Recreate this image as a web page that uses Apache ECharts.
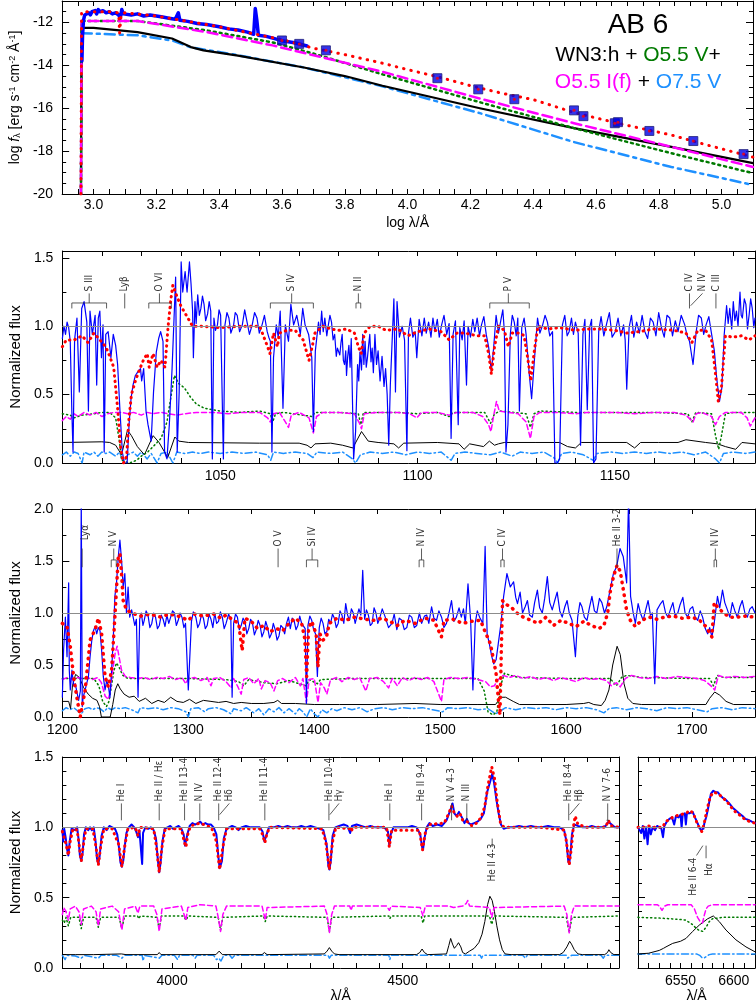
<!DOCTYPE html>
<html>
<head>
<meta charset="utf-8">
<script src="https://cdn.jsdelivr.net/npm/echarts@6.0.0/dist/echarts.min.js"></script>
<style>
  html, body { margin: 0; padding: 0; background: #fff; }
  #chart { width: 756px; height: 1008px; }
</style>
</head>
<body>
<div id="chart"></div>
<script>
// ---------- SED panel (log lambda, log f) ----------
const sedObs = [[2.963,-13.8],[2.965,-12.6],[2.968,-11.9],[2.972,-11.65],[2.978,-11.7],[2.985,-11.55],[2.99,-11.65],[2.995,-11.5],[3.0,-11.55],[3.005,-11.45],[3.01,-11.6],[3.015,-11.4],[3.02,-11.5],[3.03,-11.45],[3.04,-11.55],[3.05,-11.5],[3.06,-11.6],[3.07,-11.55],[3.08,-11.65],[3.085,-11.8],[3.09,-11.4],[3.095,-11.6],[3.1,-11.55],[3.12,-11.65],[3.14,-11.6],[3.16,-11.7],[3.18,-11.65],[3.2,-11.7],[3.22,-11.75],[3.24,-11.8],[3.26,-11.85],[3.27,-11.55],[3.275,-11.9],[3.3,-11.95],[3.33,-12.05],[3.36,-12.1],[3.4,-12.2],[3.43,-12.3],[3.46,-12.35],[3.49,-12.45],[3.51,-12.55],[3.515,-11.35],[3.52,-11.9],[3.525,-12.6],[3.55,-12.65],[3.6,-12.85],[3.64,-12.95],[3.68,-13.1]];
const sedModel = [[2.96,-20],[2.962,-11.5],[3.0,-11.5],[3.05,-11.5],[3.08,-11.55],[3.083,-12.5],[3.088,-11.6],[3.1,-11.55],[3.2,-11.7],[3.3,-11.95],[3.4,-12.2],[3.5,-12.5],[3.6,-12.8],[3.7,-13.2],[3.8,-13.5],[3.92,-13.9],[4.0,-14.2],[4.1,-14.55],[4.2,-14.95],[4.3,-15.3],[4.4,-15.6],[4.53,-16.2],[4.6,-16.45],[4.7,-16.8],[4.84,-17.25],[4.95,-17.7],[5.1,-18.28]];
const sedWR = [[2.96,-20],[2.962,-12.25],[3.0,-12.25],[3.14,-12.45],[3.25,-12.75],[3.31,-13.15],[3.35,-13.3],[3.46,-13.55],[3.67,-14.1],[3.8,-14.5],[3.92,-14.95],[4.23,-16.0],[4.53,-16.93],[4.84,-17.8],[5.1,-18.56]];
const sedO75V = [[2.96,-20],[2.962,-12.5],[3.14,-12.6],[3.25,-12.84],[3.31,-13.16],[3.46,-13.53],[3.67,-14.1],[3.92,-14.98],[4.23,-16.23],[4.53,-17.58],[4.84,-18.74],[5.1,-19.58]];
const sedO55V = [[2.96,-20],[2.962,-11.93],[3.14,-11.93],[3.36,-12.37],[3.57,-12.93],[3.7,-13.45],[3.92,-14.42],[4.23,-15.72],[4.53,-16.93],[4.84,-18.1],[5.1,-19.03]];
const sedO55I = [[2.96,-20],[2.962,-11.93],[3.14,-11.93],[3.36,-12.45],[3.57,-13.07],[3.92,-14.3],[4.23,-15.55],[4.53,-16.7],[4.84,-17.8],[5.1,-18.74]];
const photLogLam = [3.60,3.655,3.74,4.095,4.225,4.34,4.53,4.56,4.66,4.67,4.77,4.91,5.07];
const photLogF = [-12.84,-13.0,-13.3,-14.6,-15.12,-15.58,-16.1,-16.37,-16.7,-16.65,-17.06,-17.53,-18.14];

// ---------- FUSE panel ----------
const fuseObs = [[1010,0.91],[1010.4,1.0],[1010.8,0.94],[1011.2,1.03],[1011.6,0.99],[1012,0.89],[1012.4,0.38],[1012.7,0.08],[1013.1,0.9],[1013.7,1.06],[1014.3,0.52],[1014.9,1.13],[1015.5,1.18],[1016.2,1.03],[1016.6,0.38],[1017,1.11],[1017.6,0.94],[1018.3,1.08],[1018.7,0.57],[1019.1,1.06],[1019.5,1.11],[1019.9,0.77],[1020.3,1.01],[1020.6,0.08],[1021,0.94],[1021.6,0.96],[1022.3,0.77],[1022.9,0.94],[1023.5,0.86],[1024,0.72],[1024.6,0.38],[1025.2,0.08],[1025.7,0],[1026.4,0],[1026.9,0.28],[1027.4,0.47],[1027.9,0.57],[1028.5,0.64],[1029.2,0.67],[1029.8,0.69],[1030.1,0.6],[1030.6,0.69],[1031.2,0.38],[1031.7,0.28],[1032.5,0.16],[1033.1,0.52],[1033.8,0.81],[1034.4,0.91],[1034.9,0.96],[1035.5,0.89],[1035.9,0.08],[1036.5,0.03],[1037.1,0.28],[1037.8,0.69],[1038.3,1.06],[1038.7,1.36],[1039.1,0.08],[1039.6,0.52],[1040.1,1.47],[1040.5,1.25],[1041.1,1.4],[1041.6,1.25],[1042.2,1.47],[1042.6,1.31],[1043,1.11],[1043.2,0.77],[1043.6,1.18],[1043.9,1.02],[1044.3,1.23],[1044.7,1.08],[1045.1,1.13],[1045.5,1.22],[1045.9,1.16],[1046.3,1.04],[1046.8,1.09],[1047.2,1.18],[1047.6,1.11],[1048,0.03],[1048.4,1.06],[1048.8,0.97],[1049.3,1.01],[1049.7,1.12],[1050.1,1.08],[1050.8,0.03],[1051.2,1.01],[1051.7,1.1],[1052.2,1.06],[1052.7,0.95],[1053.4,1.01],[1053.8,1.1],[1054.3,1.08],[1054.9,0.96],[1055.6,1.01],[1056.2,1.12],[1056.8,1.03],[1057.4,0.94],[1058.1,1.01],[1058.7,1.1],[1059.3,1.06],[1059.9,0.95],[1060.6,1.01],[1061.2,1.08],[1061.9,0.96],[1062.3,0.92],[1062.7,0.89],[1063.1,0.08],[1063.5,0.77],[1064.2,1.01],[1064.7,0.92],[1065.2,1.11],[1065.9,0.4],[1066.5,1.01],[1067.3,0.89],[1067.9,1.16],[1068.6,1.01],[1069.4,1.08],[1070.3,0.94],[1070.9,1.13],[1071.5,1.01],[1072.4,0.94],[1073.2,0.77],[1073.6,0.23],[1074.1,0.82],[1074.9,1.03],[1075.3,0.94],[1075.7,1.11],[1076.1,0.96],[1076.5,1.06],[1077,0.93],[1077.4,1.01],[1077.8,1.08],[1078.2,1.03],[1078.6,0.9],[1079,0.94],[1079.4,0.78],[1079.7,0.84],[1080.3,0.79],[1080.6,0.88],[1080.9,0.94],[1081.2,0.75],[1081.5,0.72],[1081.8,0.82],[1082,0.64],[1082.3,0.78],[1082.6,0.86],[1082.9,0.7],[1083.2,0.91],[1083.8,0.03],[1084.3,0.23],[1084.8,0.72],[1085.1,0.6],[1085.4,0.81],[1085.8,0.68],[1086.1,0.94],[1086.4,0.72],[1086.7,0.89],[1087,0.7],[1087.3,0.77],[1087.6,0.86],[1087.9,0.94],[1088.2,0.74],[1088.5,0.84],[1088.8,0.66],[1089.2,0.94],[1089.6,0.72],[1090,0.82],[1090.5,0.6],[1091,0.78],[1091.5,0.56],[1091.9,0.69],[1092.3,0.5],[1092.7,0.13],[1093.1,0.57],[1094,1.2],[1094.4,0.52],[1094.8,1.18],[1095.4,0.92],[1096.1,1.0],[1096.7,0.9],[1097.3,0.09],[1097.7,0.95],[1098.2,1.06],[1098.8,0.92],[1099.4,0.96],[1099.8,0.77],[1100.4,1.05],[1101.1,0.93],[1101.7,1.06],[1102.2,0.95],[1102.8,1.03],[1103.4,0.92],[1103.9,1.06],[1104.4,0.96],[1105,1.05],[1105.5,0.92],[1106.1,1.01],[1106.7,1.08],[1107.4,0.94],[1108,1.02],[1108.5,0.18],[1109,0.94],[1109.6,1.04],[1110.3,0.28],[1110.7,0.99],[1111.3,0.9],[1111.8,1.04],[1112.4,0.57],[1112.8,1.0],[1113.4,0.92],[1114,1.05],[1114.5,0.96],[1115.1,1.06],[1115.7,0.93],[1116.2,1.01],[1116.8,1.07],[1117.4,0.94],[1118,0.85],[1118.7,0.67],[1119.3,0.85],[1119.9,1.08],[1120.5,0.95],[1121.2,1.06],[1121.6,1.12],[1122,0.96],[1122.4,0.08],[1122.9,0.28],[1123.5,0.94],[1124,1.08],[1124.5,1.03],[1125,0.93],[1125.4,1.06],[1125.8,0.38],[1126.4,0.99],[1127,1.06],[1127.5,0.94],[1128.3,0.65],[1128.9,0.47],[1129.6,0.75],[1130.4,1.06],[1131,0.95],[1131.7,1.01],[1132.3,1.08],[1132.9,1.03],[1133.5,0.93],[1134.2,0.96],[1134.8,0],[1135.4,0],[1136,0.03],[1136.7,1.01],[1137.3,1.08],[1137.9,0.93],[1138.4,0.96],[1139,1.06],[1139.5,0.94],[1140,1.03],[1140.7,0.95],[1141.3,0.13],[1141.9,0.94],[1142.4,1.05],[1143,0.39],[1143.6,0.99],[1144.1,1.05],[1144.6,0],[1145.2,0.03],[1145.9,0.96],[1146.5,1.07],[1147.2,0.93],[1148,1.03],[1148.6,1.1],[1149.3,0.92],[1150.1,0.96],[1150.8,1.06],[1151.5,0.93],[1152.2,1.01],[1152.6,0.9],[1153,0.54],[1153.6,0.99],[1154.2,1.08],[1154.8,0.92],[1155.5,1.03],[1156.2,0.95],[1156.9,1.08],[1157.6,0.96],[1158.3,0.91],[1159,1.06],[1159.7,1.03],[1160.4,0.93],[1161.1,1.1],[1161.8,0.99],[1162.5,0.92],[1163.2,1.08],[1163.9,1.06],[1164.6,0.93],[1165.3,1.04],[1166,0.96],[1166.8,1.08],[1167.7,1.01],[1168.3,0.93],[1168.9,0.89],[1169.8,0.72],[1170.6,0.96],[1171.2,1.08],[1171.9,1.06],[1172.5,0.94],[1173.1,1.01],[1173.8,1.07],[1174.4,0.96],[1175.2,0.82],[1175.8,0.62],[1176.5,0.45],[1177.1,0.55],[1177.7,0.94],[1178.3,1.15],[1178.7,1.02],[1179.1,1.13],[1179.6,0.98],[1180,1.18],[1180.4,1.04],[1180.8,1.11],[1181.2,1.0],[1181.7,1.25],[1182,1.08],[1182.3,1.06],[1182.8,1.2],[1183.2,1.16],[1183.6,0.98],[1184,1.08],[1184.4,1.2],[1184.8,1.13],[1185.2,0.99],[1185.5,1.06]];
const fuseModel = [[1010,0.85],[1011,0.9],[1013,0.9],[1015,0.93],[1016.5,0.88],[1018,0.95],[1019.5,0.9],[1021,0.85],[1022,0.78],[1023,0.7],[1024,0.4],[1024.8,0.1],[1025.5,0],[1026.3,0.05],[1026.8,0.3],[1027.5,0.5],[1028.5,0.6],[1029.5,0.68],[1030.5,0.75],[1031.5,0.8],[1032,0.7],[1033,0.8],[1034,0.7],[1035,0.75],[1036,0.7],[1036.8,1.0],[1037.5,1.2],[1038,1.3],[1039,1.22],[1040,1.15],[1041,1.1],[1042,1.05],[1043,1.0],[1045,1.0],[1050,0.99],[1055,1.0],[1060,1.0],[1062,0.85],[1062.6,0.8],[1063.5,0.95],[1064.5,0.85],[1065,0.95],[1067,0.97],[1069,0.97],[1071,0.9],[1072.5,0.75],[1073.3,0.85],[1074,0.95],[1076,1.0],[1078,0.98],[1080,0.97],[1082,0.98],[1084,0.95],[1085,0.85],[1085.7,0.8],[1086.5,0.95],[1088,1.0],[1090,1.0],[1092,0.97],[1095,0.98],[1097.5,0.93],[1100,0.96],[1103,0.98],[1106,0.96],[1108,0.9],[1110,0.95],[1112,0.95],[1115,0.93],[1117,0.93],[1118,0.8],[1118.7,0.65],[1119.5,0.85],[1120.5,1.0],[1122,0.97],[1123,0.85],[1124,0.95],[1126,0.95],[1127,0.93],[1128,0.75],[1128.7,0.6],[1129.5,0.8],[1130.5,1.0],[1133,0.98],[1136,0.99],[1140,0.97],[1143,0.98],[1146,0.98],[1150,0.97],[1153,0.95],[1156,0.96],[1160,0.98],[1165,0.97],[1168,0.95],[1169.5,0.88],[1171,0.97],[1173,0.97],[1174.5,0.9],[1175.5,0.65],[1176.2,0.45],[1177,0.55],[1178,0.93],[1180,0.92],[1182,0.93],[1184,0.9],[1185.5,0.93]];
const fuseWR = [[1010,0.15],[1020,0.155],[1022,0.15],[1023.5,0.13],[1025,0.06],[1026.5,0.24],[1027.5,0.2],[1029,0.12],[1030.8,0.06],[1033,0.2],[1034.5,0.15],[1036.7,0.04],[1038.5,0.19],[1039.5,0.16],[1042,0.15],[1060,0.145],[1070,0.145],[1072,0.13],[1073,0.11],[1074,0.14],[1078,0.145],[1081,0.13],[1083.6,0.11],[1085.8,0.23],[1087.5,0.16],[1090,0.15],[1094,0.14],[1095.2,0.11],[1096.5,0.145],[1105,0.15],[1110.5,0.14],[1111.8,0.1],[1113.2,0.14],[1116.7,0.12],[1118.2,0.16],[1119.5,0.13],[1120.5,0.14],[1122,0.15],[1130,0.15],[1136,0.15],[1138,0.12],[1140,0.11],[1141.5,0.15],[1148,0.15],[1153,0.15],[1155,0.11],[1156.5,0.15],[1161,0.15],[1166,0.15],[1168,0.17],[1173,0.15],[1176,0.14],[1178,0.12],[1180.6,0.1],[1182.2,0.15],[1185.5,0.14]];
const fuseO55V = [[1010,0.36],[1012,0.35],[1013,0.33],[1015,0.35],[1018,0.36],[1020,0.37],[1022,0.37],[1023.5,0.33],[1024.5,0.15],[1025,0.02],[1027,0],[1028.8,0.02],[1030,0.05],[1031.6,0.08],[1033,0.12],[1035,0.18],[1036.5,0.3],[1037.6,0.5],[1038.4,0.64],[1039.5,0.58],[1040.9,0.55],[1042.5,0.48],[1044,0.43],[1046,0.4],[1050,0.38],[1055,0.37],[1060,0.38],[1062.7,0.36],[1063.3,0.3],[1064,0.36],[1066,0.37],[1073.3,0.34],[1074,0.37],[1080,0.37],[1085,0.36],[1085.6,0.28],[1086.3,0.37],[1095,0.37],[1100,0.36],[1105,0.37],[1108,0.34],[1109,0.37],[1117,0.37],[1118.5,0.29],[1119.5,0.36],[1121,0.38],[1127.5,0.36],[1128.6,0.26],[1129.5,0.36],[1131,0.38],[1140,0.37],[1150,0.37],[1160,0.37],[1168.5,0.36],[1169.5,0.3],[1170.5,0.37],[1174.5,0.36],[1175.5,0.2],[1176.3,0.1],[1177,0.2],[1178,0.36],[1180,0.37],[1185.5,0.37]];
const fuseO55I = [[1010,0.31],[1011,0.34],[1012,0.32],[1013,0.36],[1014,0.34],[1015.5,0.37],[1017,0.35],[1018.5,0.37],[1020,0.34],[1021.5,0.36],[1023,0.37],[1025,0.37],[1026.5,0.36],[1028,0.37],[1030,0.35],[1031.5,0.37],[1033,0.36],[1035,0.37],[1037,0.36],[1039,0.35],[1041,0.36],[1044,0.37],[1048,0.37],[1052,0.36],[1056,0.37],[1060,0.37],[1062,0.33],[1062.7,0.3],[1063.5,0.36],[1065,0.37],[1066.5,0.3],[1067.3,0.26],[1068,0.35],[1070,0.37],[1072.5,0.33],[1073.6,0.22],[1074.4,0.34],[1076,0.37],[1080,0.37],[1084,0.36],[1085.3,0.29],[1085.8,0.25],[1086.5,0.36],[1090,0.37],[1095,0.37],[1098,0.36],[1099.8,0.33],[1101,0.37],[1105,0.37],[1108,0.35],[1110,0.37],[1114,0.37],[1116.5,0.34],[1118,0.28],[1118.6,0.23],[1119.3,0.35],[1120,0.45],[1120.7,0.38],[1123,0.37],[1125.5,0.36],[1127.5,0.3],[1128.6,0.18],[1129.5,0.34],[1131,0.37],[1135,0.37],[1140,0.36],[1143,0.37],[1150,0.37],[1155,0.36],[1160,0.37],[1165,0.37],[1168,0.35],[1169.8,0.3],[1170.6,0.36],[1172,0.37],[1174.5,0.34],[1175.5,0.28],[1176.5,0.34],[1178,0.37],[1182,0.37],[1183.5,0.33],[1184.3,0.27],[1185.5,0.33]];
const fuseO75V = [[1010,0.06],[1011,0.08],[1012,0.05],[1013,0.08],[1014,0.07],[1015,0],[1015.5,0.08],[1017,0.06],[1018,0.08],[1019,0.05],[1020,0.08],[1021,0.07],[1022,0.08],[1023.5,0.05],[1024.5,0.08],[1025.5,0],[1026.5,0.06],[1028,0.08],[1029,0.05],[1030,0.08],[1031.5,0.03],[1032.5,0.07],[1034,0],[1035,0.07],[1036.5,0.08],[1038,0],[1039,0.08],[1041,0.07],[1043,0.08],[1045,0.07],[1047,0.08],[1050,0.07],[1053,0.08],[1056,0.07],[1059,0.08],[1062,0.06],[1062.8,0.02],[1063.5,0.08],[1066,0.07],[1069,0.08],[1072,0.07],[1073.5,0.04],[1074.5,0.08],[1078,0.07],[1081,0.08],[1083.5,0.03],[1084.3,0],[1085.5,0.06],[1088,0.08],[1091,0.07],[1094,0.08],[1097,0.06],[1100,0.08],[1103,0.07],[1106,0.08],[1108.5,0.02],[1109.5,0.07],[1112,0.08],[1115,0.07],[1118.5,0.06],[1121,0.08],[1124,0.05],[1126,0.08],[1129,0.07],[1132,0.08],[1134.5,0.04],[1135.5,0],[1136.5,0.07],[1139,0.08],[1142,0.06],[1144.5,0.02],[1145.5,0.07],[1149,0.08],[1152,0.07],[1155,0.08],[1158,0.07],[1161,0.08],[1164,0.07],[1167,0.08],[1170,0.06],[1173,0.08],[1175.5,0.03],[1176.5,0],[1177.5,0.07],[1180,0.08],[1183,0.07],[1185.5,0.08]];

// ---------- IUE panel ----------
const iueObs = [[1200,0.19],[1201,0.65],[1202.4,0.96],[1203.7,0.58],[1205,1.29],[1205.5,0.45],[1206.3,0.26],[1207.6,0.45],[1209,0.3],[1210.2,0.32],[1212.9,0.16],[1214.3,0.25],[1215,2.1],[1215.8,0.1],[1216.5,0.19],[1218.1,0.26],[1220.7,0.39],[1222,0.58],[1223.4,0.74],[1224.7,0.83],[1226,0.87],[1227.3,0.8],[1228.5,0.86],[1229.9,0.83],[1231.2,0.64],[1232.5,0.39],[1233.9,0.26],[1235.2,0.35],[1236.5,0.3],[1237.8,0.19],[1239.1,0.45],[1240.4,0.74],[1241.7,1.16],[1243,1.29],[1244.4,1.54],[1245.7,1.7],[1247,1.51],[1248.3,1.25],[1249.6,1.38],[1250.9,1.0],[1252.2,1.25],[1253.5,0.96],[1255,1.03],[1256.2,0.96],[1257.5,0.88],[1258.8,0.94],[1260.1,0.19],[1261.4,0.94],[1262.7,1.0],[1264,0.88],[1265,0.93],[1266.5,1.02],[1268,0.98],[1269.5,0.86],[1271,0.9],[1272.5,1.0],[1274,0.96],[1275.5,0.85],[1277,0.88],[1278.5,0.98],[1280,0.94],[1281.5,0.87],[1283,0.98],[1284.5,0.9],[1286,0.9],[1287.5,1.02],[1289,1.0],[1290.5,0.88],[1292,0.93],[1293.5,1.0],[1295,0.96],[1296.5,0.86],[1297.8,0.9],[1300,0.26],[1301.3,0.26],[1302.5,0.92],[1304,1.01],[1306,0.96],[1307.5,0.86],[1309,0.9],[1310.5,0.99],[1312,0.95],[1313.5,0.85],[1315,0.88],[1316.5,0.99],[1318,0.94],[1319.5,0.86],[1321,1.0],[1322.5,0.9],[1324,0.92],[1325.5,1.01],[1327,0.96],[1328.5,0.85],[1330,0.9],[1332,0.99],[1333.8,0.93],[1334.8,0.19],[1336,0.9],[1337.5,0.99],[1339,0.96],[1340.5,0.84],[1342,0.88],[1343.5,0.95],[1345,0.92],[1346.5,0.8],[1348,0.85],[1349.5,0.94],[1351,0.9],[1352.5,0.79],[1354,0.84],[1355.5,0.93],[1357,0.88],[1358.5,0.77],[1360,0.82],[1361.5,0.92],[1363,0.86],[1364.5,0.76],[1366,0.8],[1367.5,0.9],[1369,0.84],[1370.5,0.74],[1372,0.78],[1373.5,0.88],[1375,0.86],[1376.5,0.8],[1378,0.9],[1379.5,0.96],[1381,0.85],[1382.5,0.95],[1384,0.93],[1385.5,0.84],[1387,0.88],[1388.5,0.97],[1390,0.9],[1392.8,0.85],[1393.8,0.13],[1395,0.88],[1396.5,0.97],[1398,0.93],[1399.5,0.84],[1401,0.8],[1402.5,0.39],[1404,0.86],[1405.5,0.95],[1407,0.9],[1408.5,0.8],[1410,0.82],[1411.5,0.94],[1413,0.9],[1414.5,0.99],[1416,0.95],[1417.5,0.86],[1419,0.9],[1420.5,1.02],[1422,0.98],[1423.5,0.9],[1425,1.09],[1426.5,0.98],[1428,0.93],[1429.5,1.04],[1431,1.0],[1432.5,0.9],[1434,0.9],[1435.5,1.04],[1437,0.98],[1438.5,1.41],[1440,0.94],[1441.5,1.03],[1443,0.98],[1444.5,0.88],[1446,0.9],[1447.5,1.05],[1449,1.0],[1450.5,0.9],[1452,0.95],[1454,1.04],[1456.4,0.96],[1459,0.86],[1461.7,0.9],[1463.5,0.99],[1465.6,0.84],[1467.5,0.95],[1469.6,0.93],[1471.5,0.84],[1473.5,0.86],[1475.5,0.98],[1477.4,0.96],[1479.5,0.86],[1481.4,0.88],[1483.5,1.0],[1485.3,0.9],[1487.5,0.97],[1489.3,0.98],[1491,0.9],[1493.2,1.06],[1495,0.95],[1497.1,0.93],[1499,1.02],[1501.1,0.96],[1503,0.86],[1505,0.9],[1507,1.0],[1509,1.12],[1511,0.92],[1512.9,0.96],[1515,1.05],[1516.8,0.96],[1518.5,1.04],[1520,0.9],[1522.1,1.28],[1524.2,0.93],[1526,0.26],[1527.8,0.9],[1529.5,1.02],[1531.3,0.96],[1533.9,0.9],[1535.7,1.64],[1537.3,0.8],[1539.1,0.7],[1541,0.58],[1542.5,0.51],[1544.4,0.55],[1546.2,0.71],[1548.3,0.9],[1550.4,1.16],[1553,1.38],[1555.7,1.25],[1558.3,1.3],[1560,1.15],[1561.4,1.09],[1563.5,1.2],[1565.4,1.0],[1567.5,1.06],[1569.3,1.12],[1571,0.98],[1573.2,0.96],[1575,1.1],[1577.2,1.22],[1579,1.05],[1581.1,1.0],[1583,1.14],[1585.1,1.35],[1587,1.1],[1589,1.03],[1591,1.12],[1592.9,1.2],[1595,1.02],[1596.9,0.96],[1599,1.06],[1600.8,1.12],[1602.5,1.0],[1604.7,0.93],[1607.4,0.58],[1609.2,0.96],[1611,1.1],[1612.6,1.06],[1614.5,0.96],[1616.6,0.93],[1618.5,1.05],[1620.5,1.16],[1622.5,1.02],[1624.4,1.0],[1626.5,1.14],[1628.4,1.1],[1630.5,1.0],[1632.3,1.06],[1634.9,1.22],[1637.6,1.38],[1640.2,1.45],[1642.8,1.62],[1645.4,1.54],[1648.1,1.29],[1649.6,2.1],[1651.2,1.16],[1653.3,1.0],[1655,0.9],[1657.2,1.09],[1659,1.0],[1661.2,0.93],[1663,1.02],[1665.1,1.12],[1667,0.98],[1668.5,1.0],[1670.4,0.32],[1672.2,1.03],[1674.5,1.08],[1676.9,1.12],[1679,1.0],[1680.9,0.96],[1683,1.04],[1684.8,1.1],[1686.5,0.98],[1688.7,1.0],[1690.5,1.08],[1692.7,1.15],[1694.5,1.0],[1696.6,0.96],[1698.5,1.04],[1700.5,1.06],[1702.5,0.96],[1704.5,0.93],[1706.5,1.02],[1708.4,0.96],[1710.5,0.85],[1712.4,0.8],[1714,0.86],[1715.8,0.77],[1717.6,0.9],[1720.2,1.16],[1722,1.05],[1724.2,1.22],[1726,1.1],[1728.1,1.03],[1730,0.96],[1732,1.1],[1734,1.02],[1736,0.96],[1738,1.06],[1739.9,1.12],[1742,1.0],[1743.9,0.96],[1746,1.04],[1747.8,1.06],[1750,1.0]];
const iueModel = [[1200,0.9],[1203.7,0.87],[1206.3,0.68],[1208.9,0.39],[1211.5,0.19],[1214.2,0],[1218.1,0.26],[1222,0.74],[1226,0.84],[1228.6,0.95],[1231.2,0.8],[1233.9,0.39],[1236.5,0.29],[1239.1,0.45],[1241.7,0.96],[1244.4,1.54],[1245.7,1.57],[1247,1.38],[1248.3,1.12],[1250.9,1.03],[1255,1.0],[1262,0.97],[1270,0.99],[1278,0.96],[1285,0.99],[1292,0.97],[1300,0.93],[1305,0.99],[1312,0.97],[1320,0.99],[1326,0.95],[1330,0.98],[1336,0.93],[1340,0.9],[1342.8,0.64],[1345,0.95],[1350,0.92],[1355,0.85],[1360,0.88],[1365,0.82],[1370,0.85],[1375,0.83],[1380,0.9],[1385,0.95],[1390,0.9],[1392.5,0.75],[1394,0.39],[1395.5,0.85],[1398,0.92],[1401.5,0.8],[1403,0.48],[1404.5,0.8],[1407,0.74],[1409.7,0.77],[1412,0.9],[1418,0.95],[1425,0.93],[1432,0.96],[1440,0.94],[1447,0.93],[1454,0.95],[1460,0.92],[1466,0.88],[1472,0.93],[1480,0.9],[1488,0.95],[1495,0.93],[1501,0.77],[1503,0.93],[1510,0.94],[1518,0.9],[1525,0.92],[1532,0.93],[1535,0.84],[1540,0.7],[1544.4,0.42],[1546.5,0.13],[1547.5,0.02],[1548.5,0.6],[1549.5,1.12],[1551,1.09],[1556,1.06],[1561,1.0],[1566,0.96],[1572,0.93],[1578,0.9],[1584,0.96],[1590,0.88],[1596,0.93],[1602,0.9],[1608,0.87],[1614,0.92],[1620,0.88],[1626,0.85],[1630,0.88],[1633,1.0],[1635,1.2],[1637.6,1.35],[1640.5,1.46],[1643,1.4],[1645.5,1.22],[1648,1.03],[1651,0.93],[1655,0.87],[1660,0.93],[1666,0.96],[1672,0.94],[1678,0.96],[1685,0.97],[1692,0.95],[1700,0.96],[1706,0.93],[1711,0.87],[1715.8,0.77],[1717.6,1.1],[1720,1.06],[1725,1.0],[1730,0.96],[1736,0.96],[1742,0.97],[1750,0.96]];
const iueWR = [[1200,0.15],[1205,0.15],[1206.5,0.08],[1208,0.3],[1210.5,0.41],[1213.5,0.38],[1217,0.28],[1220.5,0.22],[1224,0.18],[1227.5,0.16],[1229.5,0.1],[1231,0],[1238,0],[1240,0.12],[1242,0.26],[1244,0.32],[1246,0.27],[1249,0.22],[1253,0.19],[1257,0.2],[1261,0.15],[1266,0.18],[1271,0.13],[1276,0.16],[1281,0.14],[1286,0.19],[1291,0.15],[1296,0.14],[1301,0.17],[1306,0.13],[1312,0.16],[1318,0.15],[1324,0.14],[1330,0.15],[1336,0.13],[1342,0.14],[1350,0.13],[1360,0.13],[1368,0.14],[1371,0.16],[1374,0.13],[1385,0.13],[1400,0.12],[1420,0.12],[1450,0.12],[1480,0.13],[1500,0.12],[1530,0.12],[1544,0.12],[1548,0.19],[1552,0.19],[1558,0.15],[1563,0.12],[1600,0.12],[1614,0.13],[1618,0.14],[1622,0.12],[1628,0.11],[1631,0.16],[1634,0.26],[1637,0.5],[1640.5,0.68],[1643,0.6],[1646,0.32],[1649,0.18],[1653,0.13],[1660,0.12],[1700,0.12],[1711,0.12],[1714,0.18],[1718,0.24],[1722,0.21],[1727,0.15],[1733,0.12],[1750,0.12]];
const iueO55V = [[1200,0.37],[1225,0.37],[1229,0.3],[1232,0.15],[1235,0.1],[1237,0.15],[1239,0.3],[1241,0.45],[1243,0.52],[1245,0.48],[1248,0.4],[1252,0.37],[1300,0.37],[1330,0.36],[1340,0.34],[1344,0.3],[1348,0.36],[1360,0.33],[1370,0.32],[1380,0.35],[1393.5,0.3],[1396,0.36],[1402.5,0.32],[1405,0.36],[1430,0.37],[1500,0.37],[1530,0.37],[1535,0.25],[1538,0.05],[1542,0.02],[1545,0.05],[1548,0.3],[1551,0.42],[1556,0.4],[1562,0.38],[1600,0.37],[1635,0.37],[1640,0.3],[1644,0.38],[1648,0.4],[1660,0.38],[1700,0.37],[1714,0.37],[1717,0.3],[1720,0.4],[1725,0.38],[1750,0.38]];
const iueO55I = [[1200,0.36],[1204,0.38],[1208,0.36],[1212,0.38],[1216,0.37],[1220,0.38],[1224,0.36],[1228,0.38],[1231,0.33],[1234,0.2],[1236.5,0.17],[1238,0.25],[1240,0.45],[1242,0.62],[1243.5,0.68],[1245,0.58],[1247,0.45],[1250,0.39],[1254,0.38],[1260,0.37],[1265,0.38],[1270,0.36],[1275,0.38],[1280,0.37],[1285,0.39],[1290,0.36],[1295,0.38],[1298,0.32],[1300,0.37],[1305,0.38],[1310,0.35],[1315,0.38],[1318,0.3],[1320,0.37],[1325,0.38],[1330,0.34],[1334,0.28],[1336,0.37],[1339,0.3],[1342,0.22],[1344,0.36],[1348,0.38],[1352,0.32],[1356,0.37],[1358,0.27],[1361,0.35],[1365,0.33],[1368,0.25],[1371,0.35],[1375,0.37],[1380,0.33],[1385,0.38],[1389,0.3],[1391,0.37],[1393.8,0.14],[1396,0.36],[1400,0.37],[1403,0.14],[1405,0.33],[1408,0.28],[1410,0.22],[1413,0.36],[1418,0.38],[1422,0.34],[1427,0.38],[1432,0.36],[1436,0.38],[1441,0.25],[1444,0.37],[1450,0.38],[1455,0.34],[1459,0.28],[1462,0.37],[1466,0.3],[1470,0.38],[1475,0.35],[1480,0.38],[1485,0.36],[1490,0.38],[1495,0.34],[1501,0.15],[1503,0.36],[1508,0.38],[1515,0.37],[1522,0.38],[1530,0.36],[1536,0.34],[1540,0.29],[1543,0.3],[1546,0.36],[1550,0.4],[1555,0.38],[1560,0.4],[1566,0.37],[1572,0.39],[1578,0.36],[1584,0.38],[1590,0.35],[1596,0.38],[1602,0.36],[1608,0.34],[1614,0.38],[1620,0.36],[1626,0.37],[1632,0.35],[1636,0.3],[1640,0.33],[1643,0.29],[1647,0.37],[1652,0.4],[1658,0.38],[1665,0.37],[1672,0.39],[1680,0.37],[1688,0.39],[1696,0.38],[1704,0.37],[1710,0.35],[1715,0.3],[1718,0.26],[1721,0.4],[1726,0.38],[1734,0.39],[1742,0.38],[1750,0.39]];
const iueO75V = [[1200,0.06],[1203,0.09],[1206,0.07],[1209,0.09],[1212,0.06],[1215,0.03],[1218,0.08],[1221,0.09],[1224,0.07],[1227,0.09],[1230,0.08],[1233,0.05],[1236,0.09],[1239,0.07],[1242,0.09],[1246,0.08],[1250,0.09],[1255,0.07],[1260,0.04],[1262,0.09],[1268,0.08],[1274,0.09],[1280,0.07],[1286,0.09],[1292,0.08],[1298,0.05],[1300,0],[1302,0.08],[1308,0.09],[1313,0.05],[1316,0.08],[1322,0.09],[1328,0.07],[1334,0.03],[1336,0.08],[1342,0.06],[1346,0.09],[1352,0.04],[1356,0.08],[1360,0.02],[1364,0.08],[1368,0.05],[1372,0.09],[1376,0.04],[1380,0.08],[1385,0.03],[1388,0.08],[1391,0.05],[1394,0],[1397,0.08],[1400,0.03],[1403,0],[1406,0.07],[1410,0.04],[1414,0.08],[1418,0.06],[1424,0.09],[1430,0.07],[1436,0.09],[1442,0.05],[1448,0.08],[1455,0.09],[1462,0.07],[1470,0.09],[1478,0.08],[1486,0.09],[1494,0.07],[1502,0.05],[1506,0.09],[1514,0.08],[1522,0.09],[1530,0.07],[1538,0.08],[1544,0.03],[1548,0.06],[1552,0.09],[1560,0.07],[1568,0.09],[1576,0.08],[1584,0.09],[1592,0.07],[1600,0.09],[1608,0.08],[1616,0.09],[1624,0.07],[1630,0.04],[1634,0.08],[1640,0.09],[1648,0.07],[1656,0.09],[1664,0.08],[1672,0.06],[1680,0.09],[1688,0.08],[1696,0.09],[1704,0.07],[1712,0.05],[1716,0.08],[1724,0.09],[1732,0.07],[1740,0.09],[1750,0.08]];

// ---------- optical panel ----------
const optObs = [[3762,0.98],[3764,0.9],[3766,0.99],[3769,0.93],[3772,0.85],[3775,0.8],[3778,0.9],[3782,0.99],[3786,1.0],[3790,0.98],[3794,1.0],[3797,0.92],[3800,0.8],[3803,0.76],[3806,0.82],[3809,0.95],[3813,1.0],[3818,0.98],[3822,1.0],[3826,0.98],[3830,1.0],[3834,0.9],[3837,0.78],[3840,0.74],[3843,0.8],[3847,0.94],[3852,1.0],[3858,0.98],[3864,1.01],[3870,1.0],[3876,0.99],[3881,0.95],[3885,0.85],[3888,0.75],[3891,0.72],[3894,0.76],[3897,0.86],[3901,0.96],[3906,1.0],[3912,1.02],[3918,1.0],[3922,0.97],[3926,0.93],[3929,0.98],[3933,0.99],[3935,0.74],[3937,0.96],[3942,1.0],[3948,0.99],[3954,1.0],[3960,0.98],[3965,0.92],[3969,0.77],[3972,0.68],[3975,0.75],[3979,0.9],[3984,0.99],[3990,1.0],[3996,1.01],[4002,0.99],[4008,1.0],[4014,1.01],[4020,0.99],[4025,0.95],[4028,0.87],[4030,0.86],[4033,0.95],[4038,1.01],[4044,1.03],[4050,1.02],[4056,1.03],[4061,1.04],[4066,1.02],[4072,1.03],[4078,1.02],[4084,1.02],[4090,1.0],[4096,0.95],[4100,0.8],[4103,0.71],[4105,0.7],[4108,0.76],[4112,0.92],[4118,0.99],[4124,1.0],[4130,1.01],[4138,1.0],[4144,0.98],[4150,1.0],[4160,1.01],[4170,1.0],[4180,1.0],[4190,1.0],[4196,0.97],[4200,0.9],[4202,0.89],[4205,0.95],[4210,1.0],[4220,1.0],[4230,1.01],[4240,1.0],[4250,1.01],[4260,1.0],[4270,1.0],[4280,1.01],[4290,1.0],[4300,1.01],[4310,1.0],[4320,0.99],[4328,0.98],[4335,0.88],[4339,0.72],[4341,0.7],[4344,0.76],[4348,0.94],[4354,1.0],[4362,1.01],[4372,1.02],[4380,1.01],[4386,0.96],[4390,1.01],[4400,1.02],[4410,1.01],[4420,1.0],[4430,1.01],[4440,1.0],[4450,1.0],[4460,1.0],[4468,0.97],[4471,0.87],[4474,0.95],[4480,1.0],[4490,1.0],[4500,1.0],[4510,1.0],[4520,1.01],[4530,1.0],[4538,0.95],[4542,0.86],[4544,0.84],[4547,0.92],[4552,1.0],[4558,1.03],[4565,1.01],[4575,1.02],[4585,1.01],[4595,1.05],[4603,1.12],[4608,1.17],[4612,1.1],[4617,1.08],[4622,1.11],[4626,1.1],[4630,1.06],[4634,1.03],[4639,1.06],[4643,1.03],[4648,1.02],[4655,1.03],[4662,1.04],[4669,1.06],[4676,1.1],[4683,1.25],[4690,1.33],[4694,1.38],[4698,1.32],[4703,1.2],[4708,1.1],[4713,1.02],[4719,0.99],[4728,1.0],[4740,1.0],[4752,1.01],[4765,1.0],[4778,1.01],[4790,1.0],[4802,1.0],[4815,1.01],[4828,1.0],[4840,1.0],[4850,0.98],[4855,0.9],[4859,0.76],[4861,0.74],[4864,0.82],[4867,0.95],[4872,1.02],[4880,1.01],[4890,1.0],[4900,1.0],[4910,1.01],[4920,1.0],[4930,1.0],[4940,1.01],[4946,1.04],[4949,1.05],[4953,1.02],[4960,1.0],[4969,1.0]];
const optModel = [[3762,0.97],[3766,0.96],[3770,0.88],[3775,0.8],[3779,0.9],[3785,0.99],[3794,0.98],[3799,0.86],[3803,0.76],[3807,0.86],[3813,0.99],[3828,0.99],[3835,0.86],[3840,0.73],[3845,0.86],[3852,0.99],[3870,0.99],[3884,0.88],[3891,0.72],[3897,0.86],[3904,0.99],[3920,1.0],[3926,0.94],[3930,1.0],[3960,0.99],[3966,0.86],[3972,0.68],[3978,0.86],[3985,0.99],[4020,0.99],[4026,0.9],[4030,0.86],[4034,0.95],[4040,1.01],[4060,1.03],[4085,1.0],[4096,0.9],[4103,0.7],[4110,0.86],[4118,0.99],[4190,0.99],[4196,0.95],[4201,0.89],[4206,0.96],[4212,1.0],[4325,0.99],[4333,0.9],[4341,0.7],[4348,0.9],[4355,1.0],[4385,0.99],[4388,0.97],[4392,1.0],[4465,1.0],[4471,0.86],[4476,0.98],[4536,0.98],[4543,0.84],[4549,0.96],[4556,1.02],[4590,1.03],[4600,1.1],[4606,1.15],[4612,1.1],[4618,1.08],[4624,1.1],[4630,1.05],[4640,1.04],[4650,1.01],[4660,1.03],[4670,1.07],[4678,1.15],[4685,1.3],[4693,1.43],[4699,1.35],[4705,1.18],[4712,1.03],[4720,1.0],[4800,1.0],[4850,0.98],[4855,0.9],[4861,0.73],[4866,0.86],[4870,1.0],[4874,1.08],[4880,1.02],[4900,1.0],[4940,1.0],[4946,1.05],[4952,1.01],[4969,1.0]];
const optWR = [[3762,0.095],[3790,0.095],[3830,0.095],[3890,0.1],[3900,0.095],[3968,0.095],[3972,0.11],[3976,0.095],[4095,0.095],[4102,0.12],[4109,0.095],[4195,0.095],[4200,0.11],[4206,0.095],[4330,0.1],[4336,0.12],[4341,0.145],[4346,0.12],[4352,0.1],[4362,0.095],[4530,0.095],[4537,0.11],[4542,0.135],[4547,0.11],[4554,0.095],[4595,0.1],[4600,0.16],[4604,0.21],[4608,0.17],[4612,0.14],[4617,0.16],[4621,0.18],[4626,0.15],[4630,0.11],[4636,0.1],[4645,0.12],[4655,0.14],[4665,0.18],[4672,0.24],[4678,0.33],[4684,0.45],[4689,0.51],[4694,0.48],[4699,0.4],[4704,0.3],[4710,0.2],[4716,0.13],[4722,0.1],[4735,0.095],[4840,0.095],[4848,0.11],[4856,0.15],[4862,0.19],[4866,0.17],[4872,0.13],[4880,0.1],[4890,0.095],[4938,0.095],[4944,0.11],[4947,0.13],[4951,0.11],[4958,0.095],[4969,0.095]];
const optO55I = [[3762,0.38],[3765,0.43],[3770,0.4],[3775,0.34],[3779,0.42],[3790,0.44],[3798,0.4],[3803,0.31],[3808,0.42],[3825,0.44],[3835,0.4],[3840,0.3],[3845,0.42],[3870,0.44],[3884,0.4],[3891,0.27],[3897,0.42],[3920,0.44],[3926,0.39],[3930,0.44],[3960,0.44],[3967,0.38],[3972,0.26],[3978,0.42],[4020,0.44],[4026,0.38],[4030,0.34],[4034,0.43],[4060,0.45],[4095,0.44],[4100,0.36],[4105,0.26],[4110,0.38],[4118,0.44],[4195,0.44],[4200,0.37],[4202,0.34],[4206,0.43],[4330,0.44],[4336,0.38],[4341,0.25],[4346,0.38],[4352,0.44],[4385,0.44],[4388,0.41],[4391,0.44],[4465,0.44],[4471,0.41],[4475,0.44],[4538,0.43],[4544,0.37],[4549,0.44],[4600,0.44],[4610,0.43],[4630,0.44],[4638,0.46],[4641,0.48],[4645,0.44],[4688,0.43],[4693,0.36],[4698,0.43],[4850,0.44],[4856,0.38],[4861,0.25],[4866,0.38],[4872,0.44],[4969,0.44]];
const optO55V = [[3762,0.34],[3766,0.32],[3770,0.36],[3775,0.3],[3780,0.36],[3798,0.36],[3803,0.28],[3808,0.36],[3835,0.36],[3840,0.29],[3845,0.36],[3885,0.36],[3891,0.28],[3897,0.37],[3925,0.37],[3928,0.35],[3931,0.37],[3967,0.36],[3972,0.28],[3977,0.37],[4025,0.37],[4030,0.34],[4035,0.37],[4100,0.36],[4105,0.27],[4110,0.36],[4198,0.37],[4202,0.33],[4206,0.37],[4336,0.36],[4341,0.26],[4346,0.36],[4470,0.37],[4472,0.35],[4475,0.37],[4540,0.37],[4544,0.32],[4548,0.37],[4688,0.37],[4693,0.31],[4698,0.37],[4855,0.36],[4861,0.25],[4867,0.36],[4969,0.37]];
const optO75V = [[3762,0.09],[3768,0.06],[3772,0.09],[3790,0.085],[3803,0.07],[3810,0.09],[3840,0.07],[3846,0.09],[3880,0.09],[3891,0.07],[3897,0.09],[3935,0.09],[3937,0.05],[3940,0.09],[3972,0.07],[3978,0.09],[4005,0.09],[4012,0.06],[4016,0.09],[4045,0.09],[4050,0.07],[4054,0.09],[4090,0.09],[4096,0.06],[4101,0.07],[4106,0.05],[4112,0.09],[4125,0.09],[4130,0.07],[4136,0.09],[4200,0.09],[4260,0.09],[4338,0.09],[4341,0.07],[4345,0.09],[4400,0.09],[4470,0.09],[4472,0.06],[4475,0.09],[4530,0.09],[4600,0.09],[4668,0.09],[4671,0.07],[4674,0.09],[4760,0.09],[4766,0.07],[4770,0.09],[4855,0.09],[4858,0.07],[4862,0.06],[4866,0.09],[4930,0.09],[4935,0.07],[4939,0.09],[4969,0.09]];

// ---------- H-alpha panel ----------
const haObs = [[6510,1.0],[6511.3,1.01],[6513,0.96],[6514.5,1.01],[6516,0.92],[6517.6,1.0],[6519,0.88],[6520.5,1.01],[6522,0.95],[6523.8,1.0],[6526,0.98],[6528,1.01],[6530,1.0],[6532,0.99],[6533.5,0.93],[6534.8,1.01],[6537,1.04],[6539.5,1.06],[6542,1.07],[6544,1.02],[6545.7,1.08],[6548,1.07],[6550,1.09],[6551,1.0],[6552,1.09],[6554,1.1],[6555,1.02],[6556,1.1],[6558.3,1.1],[6561.4,1.11],[6563,1.08],[6564.5,1.07],[6566,1.03],[6567.6,1.0],[6569,0.98],[6570.1,0.97],[6571.5,0.99],[6572.4,1.03],[6574,1.07],[6575.5,1.12],[6577,1.18],[6578.6,1.24],[6580.8,1.26],[6583,1.25],[6584.9,1.25],[6587,1.23],[6589.6,1.21],[6592,1.2],[6595.8,1.17],[6599,1.14],[6602,1.12],[6605,1.1],[6608.3,1.08],[6611,1.06],[6614.6,1.05],[6617,1.04],[6620,1.03]];
const haModel = [[6510,1.0],[6515,1.0],[6520,1.01],[6525,1.0],[6530,1.0],[6533,1.0],[6536,1.04],[6540,1.06],[6545,1.08],[6550,1.09],[6555,1.1],[6559,1.12],[6562,1.1],[6565,1.04],[6568,0.99],[6570,0.97],[6572,1.02],[6575,1.13],[6578,1.22],[6581,1.25],[6585,1.24],[6590,1.21],[6595,1.17],[6600,1.12],[6605,1.09],[6610,1.06],[6615,1.04],[6620,1.03]];
const haWR = [[6510,0.1],[6520,0.105],[6530,0.125],[6534,0.14],[6536.3,0.15],[6542.6,0.175],[6550,0.19],[6555.1,0.21],[6561.4,0.26],[6567.6,0.305],[6575.5,0.35],[6580.8,0.37],[6586.4,0.33],[6592.7,0.27],[6602.1,0.2],[6611.5,0.15],[6620,0.115]];
const haO55I = [[6510,0.45],[6528,0.45],[6530,0.44],[6532.6,0.41],[6535,0.44],[6538,0.45],[6560,0.45],[6563,0.42],[6566,0.36],[6568.5,0.33],[6570.6,0.32],[6572.5,0.38],[6574,0.42],[6576,0.44],[6580,0.45],[6620,0.45]];
const haO55V = [[6510,0.36],[6530,0.355],[6550,0.345],[6555,0.34],[6561,0.31],[6565,0.28],[6568,0.265],[6571,0.26],[6574,0.29],[6577,0.33],[6580,0.35],[6590,0.36],[6620,0.36]];
const haO75V = [[6510,0.1],[6565,0.1],[6568,0.09],[6570,0.075],[6572,0.07],[6574,0.08],[6577,0.095],[6580,0.1],[6620,0.1]];

// ---------- line identifications: [label, lo, hi, stem, overrides] ----------
const fuseIds = [['S III',1012.4,1021.2,1016.8],['Lyβ',1025.8,1025.8,1025.8],['O VI',1031.9,1037.6,1034.6],['S IV',1062.7,1073.6,1068.1],['N II',1084.4,1085.6,1085.0],['P V',1118.3,1128.3,1123.0],['C IV',1168.9,1168.9,1168.9],['N IV',1169.2,1169.2,1172.2,{bar:1.15}],['C III',1175.6,1175.6,1175.6]];
const iueIds = [['Lyα',1215.7,1215.7,1215.7,{tx:1218.5,ty:1.68}],['N V',1238.8,1242.8,1240.8],['O V',1371.3,1371.3,1371.3],['Si IV',1393.8,1402.8,1398.3],['N IV',1483.3,1487.0,1485.2],['C IV',1548.2,1550.8,1549.5],['He II 3-2',1640.4,1640.4,1640.4],['N IV',1717.5,1719.5,1718.5]];
const optIds = [['He I',3890,3890,3890],['He II / Hε',3972,3972,3972],['He II 13-4',4027,4027,4027],['N IV',4060,4060,4060],['He II 12-4',4101,4101,4101],['Hδ',4103,4103,4124,{bar:1.09}],['He II 11-4',4201,4201,4201],['He II 10-4',4340,4340,4340],['Hγ',4342,4342,4362,{bar:1.09}],['He I',4472,4472,4472],['He II 9-4',4541,4541,4541],['N V 4-3',4606,4606,4606],['N III',4639,4639,4639],['He II 8-4',4860,4860,4860],['Hβ',4862,4862,4883,{bar:1.09}],['N V 7-6',4942,4947,4944.5],['He II 4-3',4694,4694,4694,{low:0.86,bar:0.86,top:0.92,ty:0.6}]];
const haIds = [['He II 6-4',6565,6565,6571,{low:0.8,bar:0.8,top:0.87,tx:6562.5,ty:0.5}],['Hα',6574,6574,6574,{low:0.78,bar:0.78,top:0.87,tx:6577,ty:0.64}]];

// ---------- axis ticks ----------
const sedTicks = []; for (let k = 58; k <= 102; k++) sedTicks.push(+(k * 0.05).toFixed(2));
const sedLabels = [3.0, 3.2, 3.4, 3.6, 3.8, 4.0, 4.2, 4.4, 4.6, 4.8, 5.0];
const fuseTicks = []; for (let v = 1010; v <= 1180; v += 10) fuseTicks.push(v);
const fuseLabels = [1050, 1100, 1150];
const iueTicks = []; for (let v = 1200; v <= 1750; v += 50) iueTicks.push(v);
const iueLabels = [1200, 1300, 1400, 1500, 1600, 1700];
const optTicks = []; for (let v = 3800; v <= 4950; v += 50) optTicks.push(v);
const optLabels = [4000, 4500];
const haTicks = []; for (let v = 6520; v <= 6610; v += 10) haTicks.push(v);
const haLabels = [6550, 6600];

const FONT = '"Liberation Sans", Arial, Helvetica, sans-serif';
const NARROW = '"Liberation Sans Narrow", "DejaVu Sans Condensed", sans-serif';
const C = { obs: '#0000ff', model: '#ff0000', wr: '#000000', o55v: '#007a00', o55i: '#ff00ff', o75v: '#1e90ff' };

const panels = [
  { grid: { left: 57, top: 1, width: 696, height: 193 }, x: { min: 2.9, max: 5.1, ticks: sedTicks, labels: sedLabels, fmt: v => v.toFixed(1), margin: 4, name: 'log λ/Å', nameGap: 22 },
    y: { min: -20, max: -11, interval: 2, minor: 4, fmt: v => (Math.round(v) % 2 === 0 ? String(v) : '') } },
  { grid: { left: 57, top: 251, width: 698, height: 212 }, x: { min: 1010, max: 1185.5, ticks: fuseTicks, labels: fuseLabels, fmt: v => String(v) },
    y: { min: 0, max: 1.55, interval: 0.5, minor: 2, name: 'Normalized flux' } },
  { grid: { left: 57, top: 509, width: 698, height: 208 }, x: { min: 1200, max: 1750, ticks: iueTicks, labels: iueLabels, fmt: v => String(v) },
    y: { min: 0, max: 2, interval: 0.5, minor: 2, name: 'Normalized flux' } },
  { grid: { left: 57, top: 757, width: 562, height: 211 }, x: { min: 3762, max: 4969, ticks: optTicks, labels: optLabels, fmt: v => String(v), name: 'λ/Å', nameGap: 20 },
    y: { min: 0, max: 1.5, interval: 0.5, minor: 5, name: 'Normalized flux' } },
  { grid: { left: 638, top: 757, width: 117, height: 211 }, x: { min: 6510, max: 6620, ticks: haTicks, labels: haLabels, fmt: v => String(v), name: 'λ/Å', nameGap: 20 },
    y: { min: 0, max: 1.5, interval: 0.5, minor: 5, noLabels: true } }
];

const halfFmt = v => (Math.abs(v * 2 - Math.round(v * 2)) < 1e-6 ? v.toFixed(1) : '');

const xAxis = [], yAxis = [];
panels.forEach((p, i) => {
  const xb = { gridIndex: i, type: 'value', min: p.x.min, max: p.x.max, splitLine: { show: false },
    axisLine: { onZero: false, lineStyle: { color: '#000', width: 1 } } };
  const xt = { inside: true, length: 5, lineStyle: { color: '#000' }, customValues: p.x.ticks };
  xAxis.push(Object.assign({}, xb, { position: 'bottom', axisTick: xt,
    axisLabel: { customValues: p.x.labels, formatter: p.x.fmt, color: '#000', fontSize: 14, fontFamily: FONT, margin: p.x.margin || 6 },
    name: p.x.name || '', nameLocation: 'middle', nameGap: p.x.nameGap || 22,
    nameTextStyle: { color: '#000', fontSize: 14, fontFamily: FONT } }));
  xAxis.push(Object.assign({}, xb, { position: 'top', axisTick: xt, axisLabel: { show: false } }));

  const yb = { gridIndex: i, type: 'value', min: p.y.min, max: p.y.max, interval: p.y.interval, splitLine: { show: false },
    axisLine: { onZero: false, lineStyle: { color: '#000', width: 1 } },
    axisTick: { inside: true, length: 7, lineStyle: { color: '#000' } },
    minorTick: { show: true, splitNumber: p.y.minor, length: 4, lineStyle: { color: '#000' } } };
  const yName = i === 0
    ? '{n|log }{i|f}{s|λ}{n| [erg s}{u|-1}{n| cm}{u|-2}{n| Å}{u|-1}{n|]}'
    : (p.y.name || '');
  yAxis.push(Object.assign({}, yb, { position: 'left',
    axisLabel: { show: !p.y.noLabels, formatter: p.y.fmt || halfFmt, color: '#000', fontSize: 14, fontFamily: FONT, margin: 9 },
    name: yName, nameLocation: 'middle', nameGap: 38,
    nameTextStyle: { color: '#000', fontSize: 15, fontFamily: FONT,
      rich: { n: { fontSize: 14, fontFamily: FONT, color: '#000' }, i: { fontSize: 14, fontStyle: 'italic', fontFamily: FONT, color: '#000' },
        s: { fontSize: 9, verticalAlign: 'bottom', fontFamily: FONT, color: '#000' }, u: { fontSize: 9, verticalAlign: 'top', fontFamily: FONT, color: '#000' } } } }));
  yAxis.push(Object.assign({}, yb, { position: 'right', axisLabel: { show: false } }));
});

function spec(i, data, color, width, type, extra) {
  return Object.assign({ type: 'line', xAxisIndex: 2 * i, yAxisIndex: 2 * i, data: data, showSymbol: false, symbol: 'none',
    silent: true, animation: false,
    lineStyle: { color: color, width: width, type: type || 'solid', cap: 'round', join: 'round' } }, extra || {});
}

const unityLine = { silent: true, symbol: ['none', 'none'], label: { show: false },
  lineStyle: { color: '#8c8c8c', width: 1, type: 'solid' }, data: [{ yAxis: 1 }] };

function idSeries(i, list, lvl) {
  return {
    type: 'custom', xAxisIndex: 2 * i, yAxisIndex: 2 * i, silent: true, animation: false, z: 6,
    data: list.map(a => [a[3], lvl.top]),
    renderItem: function (params, api) {
      const a = list[params.dataIndex];
      const o = Object.assign({}, lvl, a[4] || {});
      const lo = a[1], hi = a[2], stem = a[3];
      const P = (x, y) => api.coord([x, y]);
      const seg = (p, q) => ({ type: 'line', shape: { x1: p[0], y1: p[1], x2: q[0], y2: q[1] },
        style: { stroke: '#333', lineWidth: 0.8 } });
      const kids = [];
      if (lo !== hi) {
        kids.push(seg(P(lo, o.bar), P(hi, o.bar)), seg(P(lo, o.low), P(lo, o.bar)), seg(P(hi, o.low), P(hi, o.bar)),
          seg(P(stem, o.bar), P(stem, o.top)));
      } else if (lo !== stem) {
        kids.push(seg(P(lo, o.bar), P(stem, o.top)));
      } else {
        kids.push(seg(P(lo, o.low), P(lo, o.top)));
      }
      const tp = P(o.tx !== undefined ? o.tx : stem, o.ty !== undefined ? o.ty : o.top);
      kids.push({ type: 'text', x: tp[0], y: tp[1] - 2, rotation: Math.PI / 2,
        style: { text: a[0], fill: '#333', font: '10px ' + NARROW, align: 'left', verticalAlign: 'middle' } });
      return { type: 'group', children: kids };
    }
  };
}

function componentSet(i, d, w) {
  return [
    spec(i, d.o75v, C.o75v, w.comp, w.dashDot, { markLine: unityLine }),
    spec(i, d.wr, C.wr, w.wr),
    spec(i, d.o55v, C.o55v, w.comp, w.dot),
    spec(i, d.o55i, C.o55i, w.comp, w.dash),
    spec(i, d.obs, C.obs, w.obs),
    spec(i, d.model, C.model, w.model, w.modelDash)
  ];
}

const thin = { comp: 1.5, wr: 1, obs: 1.2, model: 3, dashDot: [7, 3, 1.5, 3], dot: [1.2, 3], dash: [5, 3], modelDash: [0.5, 5] };

const series = [
  spec(0, sedO75V, C.o75v, 2.5, [10, 5, 3, 5]),
  spec(0, sedWR, C.wr, 2.2),
  spec(0, sedO55V, C.o55v, 2.5, [2, 4]),
  spec(0, sedO55I, C.o55i, 2.5, [10, 5]),
  spec(0, sedObs, C.obs, 3.5),
  spec(0, sedModel, C.model, 3, [0.5, 7]),
  { type: 'scatter', xAxisIndex: 0, yAxisIndex: 0, silent: true, animation: false, symbol: 'rect', symbolSize: 9, z: 4,
    itemStyle: { color: '#0000e6', borderColor: '#20207a', borderWidth: 1 }, data: photLogLam.map((x, k) => [x, photLogF[k]]) },
  { type: 'scatter', xAxisIndex: 0, yAxisIndex: 0, silent: true, animation: false, symbol: 'circle', symbolSize: 3, z: 5,
    itemStyle: { color: '#ff0000' }, data: photLogLam.map((x, k) => [x, photLogF[k]]) }
].concat(
  componentSet(1, { o75v: fuseO75V, wr: fuseWR, o55v: fuseO55V, o55i: fuseO55I, obs: fuseObs, model: fuseModel }, thin),
  componentSet(2, { o75v: iueO75V, wr: iueWR, o55v: iueO55V, o55i: iueO55I, obs: iueObs, model: iueModel }, Object.assign({}, thin, { model: 3.5, modelDash: [0.5, 6] })),
  componentSet(3, { o75v: optO75V, wr: optWR, o55v: optO55V, o55i: optO55I, obs: optObs, model: optModel }, Object.assign({}, thin, { obs: 2 })),
  componentSet(4, { o75v: haO75V, wr: haWR, o55v: haO55V, o55i: haO55I, obs: haObs, model: haModel }, Object.assign({}, thin, { obs: 2 })),
  [
    idSeries(1, fuseIds, { low: 1.13, bar: 1.17, top: 1.24 }),
    idSeries(2, iueIds, { low: 1.44, bar: 1.51, top: 1.62 }),
    idSeries(3, optIds, { low: 1.05, bar: 1.05, top: 1.17 }),
    idSeries(4, haIds, { low: 0.8, bar: 0.8, top: 0.87 })
  ]
);

const chart = echarts.init(document.getElementById('chart'), null, { renderer: 'canvas' });
chart.setOption({
  animation: false,
  backgroundColor: '#ffffff',
  grid: panels.map(p => p.grid),
  xAxis: xAxis,
  yAxis: yAxis,
  series: series,
  graphic: [
    { type: 'text', x: 638, y: 25, style: { text: 'AB 6', font: '28px ' + FONT, fill: '#000', align: 'center', verticalAlign: 'middle' } },
    { type: 'text', x: 638, y: 55, style: { text: '{k|WN3:h + }{g|O5.5 V}{k|+}', align: 'center', verticalAlign: 'middle',
      rich: { k: { fill: '#000', fontSize: 21, fontFamily: FONT }, g: { fill: C.o55v, fontSize: 21, fontFamily: FONT } } } },
    { type: 'text', x: 638, y: 82, style: { text: '{m|O5.5 I(f)}{k| + }{b|O7.5 V}', align: 'center', verticalAlign: 'middle',
      rich: { k: { fill: '#000', fontSize: 21, fontFamily: FONT }, m: { fill: C.o55i, fontSize: 21, fontFamily: FONT }, b: { fill: C.o75v, fontSize: 21, fontFamily: FONT } } } }
  ]
});
</script>
</body>
</html>
